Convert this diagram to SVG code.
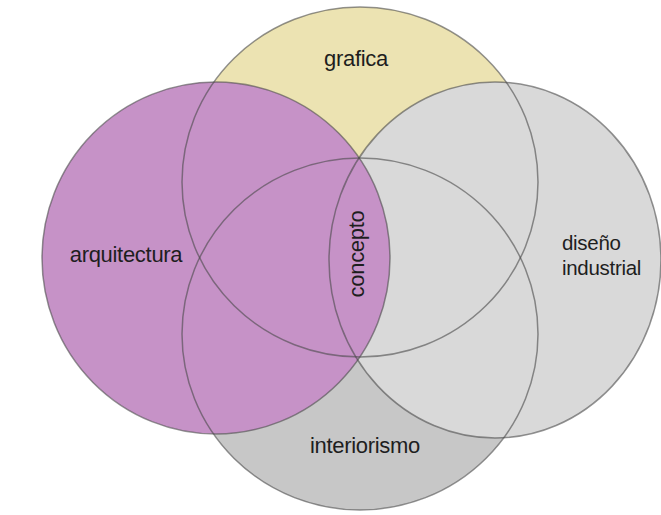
<svg xmlns="http://www.w3.org/2000/svg" width="661" height="515" viewBox="0 0 661 515">
<style>
.lbl{font-family:"Liberation Sans",Arial,sans-serif;font-size:22px;fill:#1e1e1e;letter-spacing:-0.3px;}
.sm{font-size:20.5px;}
.out{fill:none;stroke:#4a4a4a;stroke-opacity:0.6;stroke-width:1.5;}
</style>
<rect width="661" height="515" fill="#ffffff"/>
<g id="grafica">
<ellipse cx="360" cy="182" rx="178" ry="175" fill="#ece3b2"/>
<text class="lbl" x="356" y="66" text-anchor="middle">grafica</text>
</g>
<g id="interiorismo">
<ellipse cx="360" cy="334" rx="178" ry="176" fill="#c7c7c7"/>
<text class="lbl" x="365" y="453" text-anchor="middle">interiorismo</text>
</g>
<g id="diseno-industrial">
<ellipse cx="495" cy="260" rx="166" ry="178" fill="#d9d9d9"/>
<text class="lbl sm" x="562" y="250">diseño</text>
<text class="lbl sm" x="562" y="275">industrial</text>
</g>
<g id="arquitectura">
<ellipse cx="216" cy="258" rx="174" ry="176" fill="#c692c7"/>
<text class="lbl" x="126" y="262" text-anchor="middle" fill="#2a1a2e">arquitectura</text>
</g>
<g id="concepto">
<text class="lbl" transform="translate(364,254) rotate(-90)" x="0" y="0" text-anchor="middle" fill="#2a1a2e">concepto</text>
</g>
<g id="connectors">
<ellipse class="out" cx="360" cy="182" rx="178" ry="175"/>
<ellipse class="out" cx="360" cy="334" rx="178" ry="176"/>
<ellipse class="out" cx="495" cy="260" rx="166" ry="178"/>
<ellipse class="out" cx="216" cy="258" rx="174" ry="176"/>
</g>
</svg>
